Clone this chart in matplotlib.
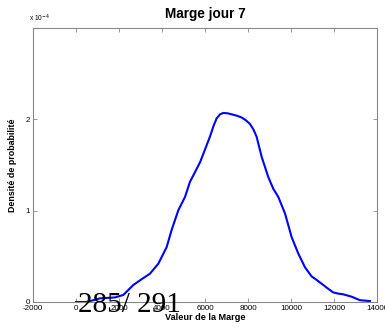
import matplotlib
matplotlib.use("Agg")
import matplotlib.pyplot as plt

# Data (density scaled by 1e-4)
marge = [0, 500, 1116, 1814, 2200, 2665, 3055, 3440, 3830, 4215, 4450, 4760, 5070,
         5300, 5530, 5770, 6000, 6230, 6400, 6540, 6700, 6850, 7050, 7240, 7480,
         7705, 7900, 8090, 8250, 8400, 8635, 8940, 9175, 9410, 9720, 10030, 10340,
         10650, 10960, 11200, 11425, 11700, 11965, 12200, 12430, 12820, 13205, 13670]
densite = [0.0, 0.0, 0.04, 0.05, 0.077, 0.186, 0.25, 0.31, 0.42, 0.60, 0.79, 1.005, 1.15,
           1.315, 1.42, 1.53, 1.67, 1.81, 1.93, 2.01, 2.055, 2.07, 2.066, 2.055, 2.04,
           2.02, 1.99, 1.95, 1.89, 1.81, 1.59, 1.37, 1.24, 1.15, 0.97, 0.71, 0.53,
           0.38, 0.28, 0.24, 0.20, 0.15, 0.105, 0.092, 0.084, 0.058, 0.02, 0.01]
xticks = [-2000, 0, 2000, 4000, 6000, 8000, 10000, 12000, 14000]
yticks = [0, 1, 2]

plt.rcParams['font.family'] = ['Liberation Sans', 'DejaVu Sans']

fig = plt.figure(figsize=(3.85, 3.27), dpi=100)
ax = fig.add_axes([33/385, 25/327, (377-33)/385, (302-28)/327])

ax.plot(marge, densite, color='#0000ff', lw=1.5, solid_joinstyle='round')
ax.set_xlim(-2000, 14000)
ax.set_ylim(0, 3)
ax.set_xticks(xticks)
ax.set_xticklabels([str(t) for t in xticks])
ax.set_yticks(yticks)
ax.set_yticklabels([str(t) for t in yticks])
ax.tick_params(direction='in', length=3, width=0.6, color='#888888', labelsize=5.8,
               top=True, right=True, pad=2)
for s in ax.spines.values():
    s.set_color('#888888')
    s.set_linewidth(0.8)

ax.set_title('Marge jour 7', fontsize=9.8, fontweight='bold', pad=7)
ax.set_xlabel('Valeur de la Marge', fontsize=6.6, fontweight='bold', labelpad=1)
ax.set_ylabel('Densité de probabilité', fontsize=6.4, fontweight='bold', labelpad=6)
fig.text(29/385, 1 - 21/327, r'x 10$^{-4}$', fontsize=4.8, ha='left', va='baseline')

fig.text(78/385, 1 - 312/327, '285/ 291', fontsize=21, family='Liberation Serif',
         color='black', ha='left', va='baseline')

fig.savefig('out.png', dpi=100, facecolor='white')
